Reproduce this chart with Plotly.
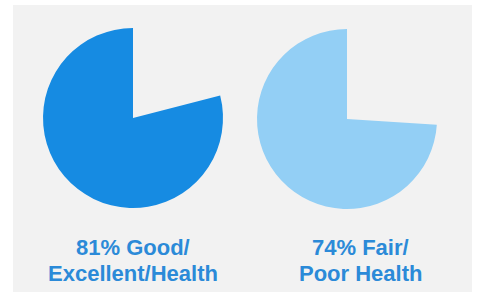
import plotly.graph_objects as go

# Data
categories = ["Good/Excellent Health", "Fair/Poor Health"]
shares = [79, 74]            # filled portion of each pie as drawn (%)
label_line1 = ["81% Good/", "74% Fair/"]
label_line2 = ["Excellent/Health", "Poor Health"]

W, H = 477, 294
pie_colors = ["#168be2", "#93cff5"]
text_color = "#2b8ad8"
bg = "#f2f2f2"

# pie centres / radii in pixels (layout)
centers = [(133, 118), (347, 119)]
radius = 90
label_x = [133, 360]
line_y = [247, 273]

fig = go.Figure()
for i, (cat, v) in enumerate(zip(categories, shares)):
    cx, cy = centers[i]
    fig.add_trace(go.Pie(
        labels=["rest", cat],
        values=[100 - v, v],
        sort=False,
        direction="counterclockwise",
        rotation=0,
        marker=dict(colors=["rgba(0,0,0,0)", pie_colors[i]], line=dict(width=0)),
        textinfo="none",
        hoverinfo="skip",
        showlegend=False,
        domain=dict(
            x=[(cx - radius) / W, (cx + radius) / W],
            y=[(H - cy - radius) / H, (H - cy + radius) / H],
        ),
    ))
    for txt, ly in zip([label_line1[i], label_line2[i]], line_y):
        fig.add_annotation(
            x=label_x[i] / W, y=1 - ly / H, xref="paper", yref="paper",
            text=f"<b>{txt}</b>",
            showarrow=False, xanchor="center", yanchor="middle", align="center",
            font=dict(family="Liberation Sans, Arial, sans-serif", size=22, color=text_color),
        )

fig.add_shape(type="rect", xref="paper", yref="paper",
              x0=13 / W, x1=472 / W, y0=1 - 292 / H, y1=1 - 5 / H,
              fillcolor=bg, line=dict(width=0), layer="below")

fig.update_layout(
    width=W, height=H,
    margin=dict(l=0, r=0, t=0, b=0),
    paper_bgcolor="white",
    plot_bgcolor="white",
)

fig.write_html("out.html", config={"displayModeBar": False},
               post_script="document.body.style.margin='0';")
